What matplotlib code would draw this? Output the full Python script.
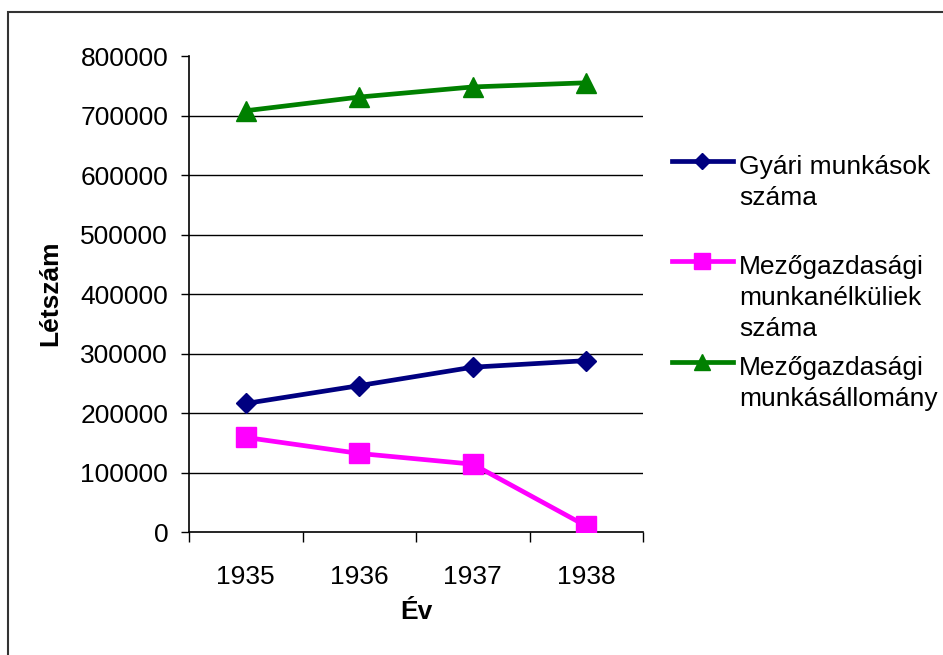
import matplotlib.pyplot as plt
from matplotlib.lines import Line2D
from matplotlib.patches import Rectangle

plt.rcParams['font.family'] = ['Liberation Sans', 'DejaVu Sans']

# adatok
years = ["1935", "1936", "1937", "1938"]
gyari = [216000, 246000, 277000, 288000]
munkanelkuli = [159000, 132000, 114000, 10000]
mezogazdasagi = [708000, 731000, 748000, 755000]

series_labels = ["Gyári munkások\nszáma",
                 "Mezőgazdasági\nmunkanélküliek\nszáma",
                 "Mezőgazdasági\nmunkásállomány"]
series_colors = ["#000080", "#FF00FF", "#008000"]
series_markers = ["D", "s", "^"]
series_ms = [10, 14, 14]

y_ticks = [0, 100000, 200000, 300000, 400000, 500000, 600000, 700000, 800000]

W, H = 943, 655
FS = 19
fig = plt.figure(figsize=(W / 100, H / 100), dpi=100)
ax = fig.add_axes([189 / W, 1 - 532 / H, (643 - 189) / W, (532 - 56) / H])

x = list(range(len(years)))
for values, color, marker, ms in zip([gyari, munkanelkuli, mezogazdasagi],
                                     series_colors, series_markers, series_ms):
    ax.plot(x, values, color=color, lw=3.4, marker=marker, ms=ms,
            mfc=color, mec=color, zorder=3)

# rácsvonalak (a legfelső nélkül)
for v in y_ticks[1:-1]:
    ax.axhline(v, color="black", lw=1.0, zorder=1)

ax.set_xlim(-0.5, len(years) - 0.5)
ax.set_ylim(0, 800000)
ax.set_yticks(y_ticks)
ax.set_yticklabels([str(v) for v in y_ticks])

ax.set_xticks([i - 0.5 for i in range(len(years) + 1)])
ax.set_xticklabels([])
ax.set_xticks(x, minor=True)
ax.set_xticklabels(years, minor=True)

ax.tick_params(axis="y", which="major", direction="out", length=6, width=1,
               pad=9, labelsize=FS)
ax.tick_params(axis="x", which="major", direction="out", length=7, width=1)
ax.tick_params(axis="x", which="minor", length=0, pad=24, labelsize=FS)

for side in ["top", "right"]:
    ax.spines[side].set_visible(False)
for side in ["left", "bottom"]:
    ax.spines[side].set_linewidth(1.2)

ax.set_ylabel("Létszám", fontsize=FS, fontweight="bold", va="center")
ax.yaxis.set_label_coords(-0.306, 0.502)
ax.set_xlabel("Év", fontsize=FS, fontweight="bold", va="center")
ax.xaxis.set_label_coords(0.5, -0.168)

# jelmagyarázat kézzel
legend_marker_y = [161, 261, 362]
for label, color, marker, ms, my in zip(series_labels, series_colors,
                                        series_markers, series_ms, legend_marker_y):
    fy = 1 - my / H
    fig.add_artist(Line2D([672 / W, 733 / W], [fy, fy], color=color, lw=3.4,
                          transform=fig.transFigure))
    fig.add_artist(Line2D([702 / W], [fy], color=color, marker=marker,
                          ms=ms * 0.85, mfc=color, mec=color,
                          transform=fig.transFigure))
    fig.text(739 / W, 1 - (my - 6) / H, label, fontsize=FS, ha="left", va="top",
             linespacing=1.36, transform=fig.transFigure)

# külső keret
fig.add_artist(Rectangle((8 / W, -0.1), 1.2, 1 - 12 / H + 0.1, fill=False,
                         edgecolor="#333333", lw=1.5, transform=fig.transFigure))

fig.savefig("out.png", dpi=100)
